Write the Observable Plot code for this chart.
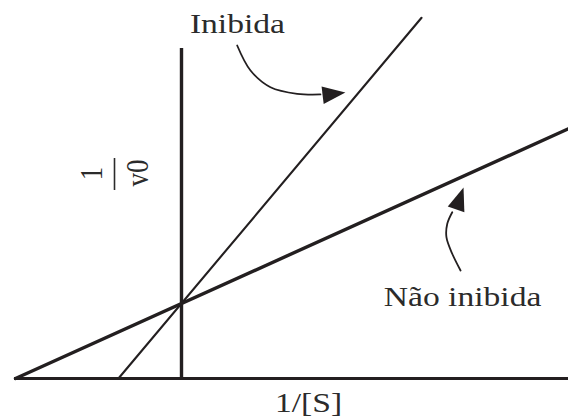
<!DOCTYPE html>
<html>
<head>
<meta charset="utf-8">
<script src="https://cdn.jsdelivr.net/npm/d3@7"></script>
<script src="https://cdn.jsdelivr.net/npm/@observablehq/plot@0.6"></script>
<style>
  html, body { margin: 0; padding: 0; background: #fff; }
  #chart svg { display: block; }
</style>
</head>
<body>
<div id="chart"></div>
<script>
// Lineweaver–Burk: x = 1/[S], y = 1/v0 (arbitrary units, -1/Km = -1, 1/Vmax = 1)
const naoInibidaX = [-1.0, 2.331];
const naoInibidaY = [0, 3.33];
const inibidaX = [-0.38, 1.446];
const inibidaY = [0, 4.81];

// axis extents
const eixoXInicio = -1.006;
const eixoXFim = 2.34;
const eixoYTopo = 4.4;

// text labels
const rotulos = ["Inibida", "Não inibida", "1/[S]"];
const rotuloX = [0.337, 1.693, 0.765];
const rotuloY = [4.613, 0.973, -0.44];

// 1/v0 written as a fraction, turned on its side
const fracNumerador = "1";
const fracDenominador = "v0";
const fracX = [-0.476, -0.199];
const fracY = [2.733, 2.74];
const fracBarraX = -0.4036;
const fracBarraY = [2.507, 2.933];

// curved pointer shafts
const setaInibidaX = [0.3355, 0.4157, 0.536, 0.697, 0.837];
const setaInibidaY = [4.44, 4.107, 3.884, 3.796, 3.787];
const setaNaoInibidaX = [1.681, 1.631, 1.596, 1.601, 1.631];
const setaNaoInibidaY = [1.44, 1.663, 1.884, 2.063, 2.217];

// pointer heads (position and heading in degrees clockwise from up)
const pontaX = [0.905, 1.672];
const pontaY = [3.791, 2.372];
const pontaAngulo = [83, 19];

const toPts = (xs, ys) => xs.map((x, i) => ({x, y: ys[i]}));

// filled, slightly elongated triangle for the pointer heads
const cabecaSeta = {
  draw(context, size) {
    const r = Math.sqrt(size / Math.PI);
    const h = 1.7 * r, w = 1.3 * r;
    context.moveTo(0, -0.6 * h);
    context.lineTo(w / 2, 0.4 * h);
    context.lineTo(-w / 2, 0.4 * h);
    context.closePath();
  }
};

const ink = "#231f20";
const textInk = "#2b2b2b";
const serif = "'Liberation Serif', 'Times New Roman', Times, serif";

const chart = Plot.plot({
  width: 568,
  height: 418,
  margin: 0,
  x: {domain: [-181 / 166, 387 / 166], axis: null},
  y: {domain: [-40 / 75, 378 / 75], axis: null},
  style: {background: "#fff", fontFamily: serif},
  marks: [
    // axes
    Plot.ruleY([0], {x1: eixoXInicio, x2: eixoXFim, stroke: ink, strokeWidth: 3.2}),
    Plot.ruleX([0], {y1: 0, y2: eixoYTopo, stroke: ink, strokeWidth: 3.4}),
    // lines
    Plot.line(toPts(inibidaX, inibidaY), {x: "x", y: "y", stroke: ink, strokeWidth: 2.1}),
    Plot.line(toPts(naoInibidaX, naoInibidaY), {x: "x", y: "y", stroke: ink, strokeWidth: 3.4}),
    // pointers
    Plot.line(toPts(setaInibidaX, setaInibidaY), {x: "x", y: "y", curve: "catmull-rom", stroke: ink, strokeWidth: 1.8}),
    Plot.line(toPts(setaNaoInibidaX, setaNaoInibidaY), {x: "x", y: "y", curve: "catmull-rom", stroke: ink, strokeWidth: 1.8}),
    Plot.dot(pontaX.map((x, i) => ({x, y: pontaY[i], a: pontaAngulo[i]})), {
      x: "x", y: "y", rotate: "a", r: 13.5, symbol: cabecaSeta, fill: ink, stroke: "none"
    }),
    // labels
    Plot.text(rotulos.map((t, i) => ({t, x: rotuloX[i], y: rotuloY[i]})), {
      x: "x", y: "y", text: "t", textAnchor: "middle", lineAnchor: "bottom",
      fontSize: 28, fill: textInk, className: "rotulo-h"
    }),
    Plot.text([{t: fracNumerador, x: fracX[0], y: fracY[0]}, {t: fracDenominador, x: fracX[1], y: fracY[1]}], {
      x: "x", y: "y", text: "t", rotate: -90, textAnchor: "middle", lineAnchor: "bottom",
      fontSize: 27, fill: textInk, className: "rotulo-v"
    }),
    Plot.ruleX([fracBarraX], {y1: fracBarraY[0], y2: fracBarraY[1], stroke: textInk, strokeWidth: 1.6})
  ]
});

// the lettering is set slightly wide
function widen(sel, extra) {
  chart.querySelectorAll(sel + " text").forEach((el) => {
    let t = el.getAttribute("transform") || "";
    if (!t && el.hasAttribute("x")) {
      t = `translate(${el.getAttribute("x")},${el.getAttribute("y")})`;
      el.removeAttribute("x");
      el.removeAttribute("y");
    }
    el.setAttribute("transform", `${t} ${extra}`);
  });
}
widen(".rotulo-h", "scale(1.2,1)");
widen(".rotulo-v", "scale(1,1.2)");

document.getElementById("chart").appendChild(chart);
</script>
</body>
</html>
